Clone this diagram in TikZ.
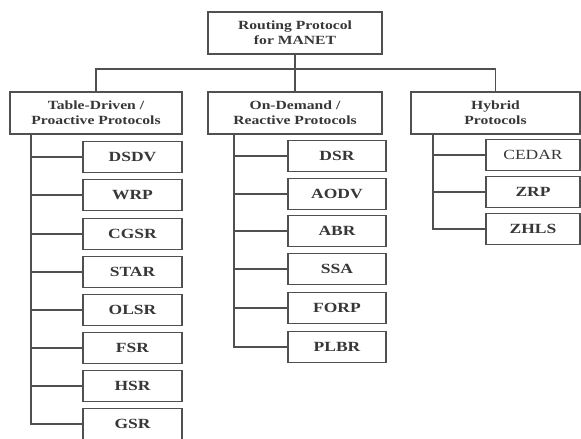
\documentclass[tikz,border=0pt]{standalone}
\usepackage{xcolor}
\usepackage{fontspec}
\setmainfont{Liberation Serif}[FakeStretch=1.25]
\usepackage{tikz}
\definecolor{rp-line}{RGB}{80, 80, 80}
\definecolor{rp-text}{RGB}{55, 55, 55}

\tikzset{
  headbox/.style={rectangle, draw=rp-line, line width=1.8pt, fill=white, text=rp-text,
    align=center, font=\bfseries\fontsize{12.5}{15}\selectfont,
    minimum height=42pt, inner sep=0pt},
  leafbox/.style={rectangle, draw=rp-line, line width=1.8pt, fill=white, text=rp-text,
    font=\bfseries\fontsize{14}{16}\selectfont, minimum height=31pt, inner sep=0pt},
  link/.style={draw=rp-line, line width=1.8pt}
}

\begin{document}
\begin{tikzpicture}[x=1pt, y=-1pt]
    \useasboundingbox (0,0) rectangle (581,439);

    \node[headbox, minimum width=174pt] (root) at (295,33) {Routing Protocol\\for MANET};

    \node[headbox, minimum width=172pt] (tdp) at (96,113) {Table-Driven /\\Proactive Protocols};
    \node[headbox, minimum width=174pt] (odp) at (295,113) {On-Demand /\\Reactive Protocols};
    \node[headbox, minimum width=169pt] (hyb) at (495.5,113) {Hybrid\\Protocols};

    % table-driven
    \node[leafbox, minimum width=99pt] (dsdv) at (132.5,157) {DSDV};
    \node[leafbox, minimum width=99pt] (wrp)  at (132.5,195) {WRP};
    \node[leafbox, minimum width=99pt] (cgsr) at (132.5,234) {CGSR};
    \node[leafbox, minimum width=99pt] (star) at (132.5,272) {STAR};
    \node[leafbox, minimum width=99pt] (olsr) at (132.5,310) {OLSR};
    \node[leafbox, minimum width=99pt] (fsr)  at (132.5,348) {FSR};
    \node[leafbox, minimum width=99pt] (hsr)  at (132.5,386) {HSR};
    \node[leafbox, minimum width=99pt] (gsr)  at (132.5,424) {GSR};

    % on-demand
    \node[leafbox, minimum width=98pt] (dsr)  at (337,156) {DSR};
    \node[leafbox, minimum width=98pt] (aodv) at (337,194) {AODV};
    \node[leafbox, minimum width=98pt] (abr)  at (337,231) {ABR};
    \node[leafbox, minimum width=98pt] (ssa)  at (337,269) {SSA};
    \node[leafbox, minimum width=98pt] (forp) at (337,308) {FORP};
    \node[leafbox, minimum width=98pt] (plbr) at (337,347) {PLBR};

    % hybrid
    \node[leafbox, minimum width=94pt] (cedar) at (533,155) {\mdseries CEDAR};
    \node[leafbox, minimum width=94pt] (zrp)   at (533,192) {ZRP};
    \node[leafbox, minimum width=94pt] (zhls)  at (533,229) {ZHLS};

    \coordinate (tdtrunk) at ([xshift=22pt]tdp.south west);
    \coordinate (odtrunk) at ([xshift=27pt]odp.south west);
    \coordinate (hytrunk) at ([xshift=23pt]hyb.south west);

    \draw[link] (root) -- (odp);
    \draw[link] (tdp.north) -- ++(0,-22) -| (hyb.north);

    \draw[link] (tdtrunk) |- (gsr);
    \draw[link] (dsdv) -- (dsdv -| tdtrunk);
    \draw[link] (wrp) -- (wrp -| tdtrunk);
    \draw[link] (cgsr) -- (cgsr -| tdtrunk);
    \draw[link] (star) -- (star -| tdtrunk);
    \draw[link] (olsr) -- (olsr -| tdtrunk);
    \draw[link] (fsr) -- (fsr -| tdtrunk);
    \draw[link] (hsr) -- (hsr -| tdtrunk);

    \draw[link] (odtrunk) |- (plbr);
    \draw[link] (dsr) -- (dsr -| odtrunk);
    \draw[link] (aodv) -- (aodv -| odtrunk);
    \draw[link] (abr) -- (abr -| odtrunk);
    \draw[link] (ssa) -- (ssa -| odtrunk);
    \draw[link] (forp) -- (forp -| odtrunk);

    \draw[link] (hytrunk) |- (zhls);
    \draw[link] (cedar) -- (cedar -| hytrunk);
    \draw[link] (zrp) -- (zrp -| hytrunk);
\end{tikzpicture}
\end{document}
